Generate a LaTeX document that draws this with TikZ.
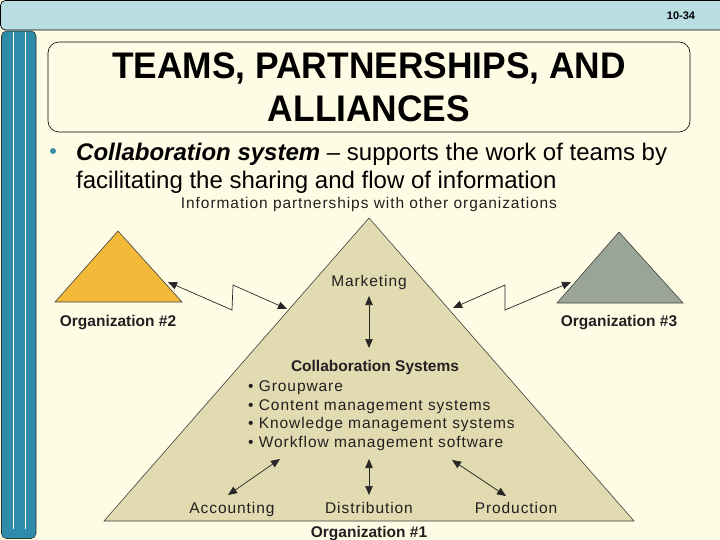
\documentclass[tikz,border=0pt]{standalone}
\usepackage{fontspec}
\setmainfont{Liberation Sans}
\newfontfamily\diagfont[LetterSpace=6]{Liberation Sans}
\usetikzlibrary{arrows.meta}
\definecolor{bgcream}{RGB}{255,252,230}
\definecolor{topbar}{RGB}{184,222,226}
\definecolor{leftbar}{RGB}{46,139,170}
\definecolor{dotteal}{RGB}{58,143,168}
\definecolor{tribeige}{RGB}{226,218,177}
\definecolor{triorange}{RGB}{243,185,56}
\definecolor{trigray}{RGB}{154,165,151}
\definecolor{diagtext}{RGB}{35,31,32}
\tikzset{
  dbl/.style={{Triangle[length=9pt,width=7.5pt]}-{Triangle[length=9pt,width=7.5pt]}, line width=0.7pt, draw=black!85},
  lbl/.style={inner sep=0pt, text=diagtext, font=\diagfont\fontsize{15.5}{18}\selectfont},
  blbl/.style={inner sep=0pt, text=diagtext, font=\bfseries\fontsize{15.5}{18}\selectfont},
  tri/.style={draw=black!75, line width=0.6pt},
  ttl/.style={anchor=base, inner sep=0pt, font=\bfseries\fontsize{37}{43}\selectfont},
}
\begin{document}
\begin{tikzpicture}[x=1pt,y=-1pt]
\useasboundingbox (0,0) rectangle (720,540);
\fill[bgcream] (0,0) rectangle (720,540);
% top bar
\draw[fill=topbar, draw=black, line width=0.7pt, rounded corners=5pt] (0.5,0.5) rectangle (740,30);
\node[anchor=base, inner sep=0pt, font=\bfseries\fontsize{11}{13}\selectfont] (pg) at (681,20) {10-34};
% left bar
\draw[fill=leftbar, draw=black!80, line width=0.6pt, rounded corners=5pt] (1.5,31) rectangle (36,538.5);
\draw[white, line width=0.7pt] (13,32) -- (13,529);
\draw[white, line width=0.7pt] (25,32) -- (25,529);
% title box
\draw[rounded corners=11pt, line width=0.6pt] (48,42) rectangle (690,132);
\node[ttl] (t1) at (369,79) {\scalebox{0.955}[1]{TEAMS, PARTNERSHIPS, AND}};
\node[ttl] (t2) at (369,122) {\scalebox{0.955}[1]{ALLIANCES}};
% bullet text
\fill[dotteal] (53,151) circle (3pt);
\node[anchor=base west, inner sep=0pt, font=\fontsize{24}{28}\selectfont] (l1) at (76,161) {\textbf{\textit{Collaboration system}} -- supports the work of teams by};
\node[anchor=base west, inner sep=0pt, font=\fontsize{24}{28}\selectfont] (l2) at (76,189) {facilitating the sharing and flow of information};
\node[lbl, anchor=base] (info) at (369,209) {Information partnerships with other organizations};
% triangles
\draw[tri, fill=tribeige] (369,218) -- (634,521) -- (104,521) -- cycle;
\draw[tri, fill=triorange] (118,231) -- (182,302) -- (55,302) -- cycle;
\draw[tri, fill=trigray] (619,232) -- (683,303) -- (557,303) -- cycle;
\node[blbl, anchor=base] (o2) at (118,326) {Organization \#2};
\node[blbl, anchor=base] (o3) at (619,326) {Organization \#3};
\node[blbl, anchor=base] (o1) at (369,537) {Organization \#1};
% inner labels
\node[lbl, anchor=base] (mkt) at (369,286) {Marketing};
\node[blbl, anchor=base] (cs) at (375,371) {Collaboration Systems};
\node[lbl, anchor=base west] (b1) at (248,391) {\textbullet\ Groupware};
\node[lbl, anchor=base west] (b2) at (248,410) {\textbullet\ Content management systems};
\node[lbl, anchor=base west] (b3) at (248,428) {\textbullet\ Knowledge management systems};
\node[lbl, anchor=base west] (b4) at (248,447) {\textbullet\ Workflow management software};
\node[lbl, anchor=base] (acc) at (232,513) {Accounting};
\node[lbl, anchor=base] (dis) at (369,513) {Distribution};
\node[lbl, anchor=base] (pro) at (516,513) {Production};
% connector end points
\coordinate (m1) at (369,296);
\coordinate (m2) at (369,348);
\coordinate (a1) at (280,459);
\coordinate (a2) at (228,495);
\coordinate (d1) at (369,459);
\coordinate (d2) at (369,495);
\coordinate (p1) at (452,460);
\coordinate (p2) at (506,496);
\coordinate (z2a) at (168,282);
\coordinate (z2b) at (232,310);
\coordinate (z2c) at (233,285);
\coordinate (z2d) at (287,309);
\coordinate (z3a) at (453,308);
\coordinate (z3b) at (505,285);
\coordinate (z3c) at (505,310);
\coordinate (z3d) at (571,282);
% connectors
\draw[dbl] (m1) -- (m2);
\draw[dbl] (a1) -- (a2);
\draw[dbl] (d1) -- (d2);
\draw[dbl] (p1) -- (p2);
\draw[dbl] (z2a) -- (z2b) -- (z2c) -- (z2d);
\draw[dbl] (z3a) -- (z3b) -- (z3c) -- (z3d);
\end{tikzpicture}
\end{document}
